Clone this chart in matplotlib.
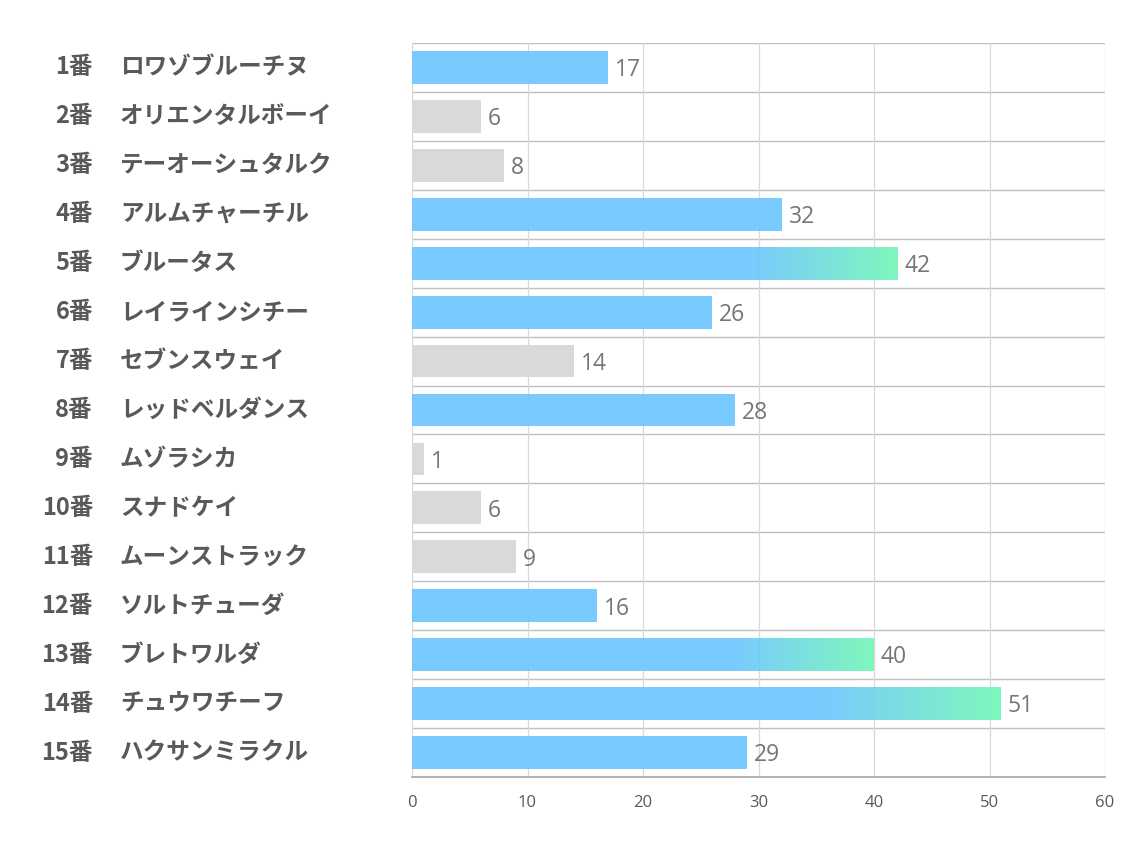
import matplotlib
matplotlib.use("Agg")
import matplotlib.pyplot as plt
import numpy as np
from matplotlib.colors import LinearSegmentedColormap

numbers = ["1番", "2番", "3番", "4番", "5番", "6番", "7番", "8番", "9番", "10番",
           "11番", "12番", "13番", "14番", "15番"]
names = ["ロワゾブルーチヌ", "オリエンタルボーイ", "テーオーシュタルク", "アルムチャーチル",
         "ブルータス", "レイラインシチー", "セブンスウェイ", "レッドベルダンス", "ムゾラシカ",
         "スナドケイ", "ムーンストラック", "ソルトチューダ", "ブレトワルダ", "チュウワチーフ",
         "ハクサンミラクル"]
values = [17, 6, 8, 32, 42, 26, 14, 28, 1, 6, 9, 16, 40, 51, 29]
groups = ["blue", "gray", "gray", "blue", "grad", "blue", "gray", "blue", "gray", "gray",
          "gray", "blue", "grad", "grad", "blue"]
xticks = [0, 10, 20, 30, 40, 50, 60]

BLUE = "#6BC5FF"
GRAY = "#D9D9D9"
GREEN = "#70F7B4"
ALPHA = 0.9
plt.rcParams['font.family'] = ['Noto Sans CJK JP', 'DejaVu Sans']

fig = plt.figure(figsize=(11.34, 8.5), dpi=100)
ax = fig.add_axes([412/1134, 1-777/850, (1105-412)/1134, (777-43)/850])
n = len(values)

# grid
for i in range(n):
    ax.axhline(i - 0.5, color="#BFBFBF", lw=1.0, zorder=1)
for x in xticks:
    ax.axvline(x, color="#D9D9D9", lw=0.9, zorder=1)

h = 0.67
cmap = LinearSegmentedColormap.from_list("bg", [BLUE, GREEN])
for i, (v, g) in enumerate(zip(values, groups)):
    if g == "gray":
        ax.barh(i, v, height=h, color=GRAY, zorder=2)
    elif g == "blue":
        ax.barh(i, v, height=h, color=BLUE, alpha=ALPHA, lw=0, zorder=2)
    else:
        ax.barh(i, v * 0.7, height=h, color=BLUE, alpha=ALPHA, lw=0, zorder=2)
        grad = np.linspace(0, 1, 256).reshape(1, -1)
        ax.imshow(grad, cmap=cmap, aspect="auto", interpolation="bilinear", alpha=ALPHA,
                  extent=(v * 0.7, v, i + h / 2, i - h / 2), zorder=2)
    ax.annotate(str(v), xy=(v, i), xytext=(5, -2), textcoords="offset points",
                va="center", ha="left", fontsize=16.5,
                family=["Open Sans", "DejaVu Sans"], color="#767676", zorder=3)
ax.set_xlim(0, 60)
ax.set_ylim(n - 0.5, -0.5)

for s in ["top", "right", "left"]:
    ax.spines[s].set_visible(False)
ax.spines["bottom"].set_color("#A6A6A6")
ax.spines["bottom"].set_linewidth(1.2)
ax.spines["bottom"].set_zorder(3)
ax.set_yticks([])
ax.set_xticks(xticks)
ax.tick_params(axis="x", length=0, pad=13, labelsize=12, labelcolor="#595959")
for lab in ax.get_xticklabels():
    lab.set_family(["Open Sans", "DejaVu Sans"])

for i in range(n):
    y = ax.transData.transform((0, i))[1]
    yf = y / 850
    fig.text(93/1134, yf, numbers[i], ha="right", va="center", fontsize=17,
             fontweight="bold", color="#595959")
    fig.text(120/1134, yf, names[i], ha="left", va="center", fontsize=17,
             fontweight="bold", color="#595959")

fig.savefig("out.png", dpi=100)
